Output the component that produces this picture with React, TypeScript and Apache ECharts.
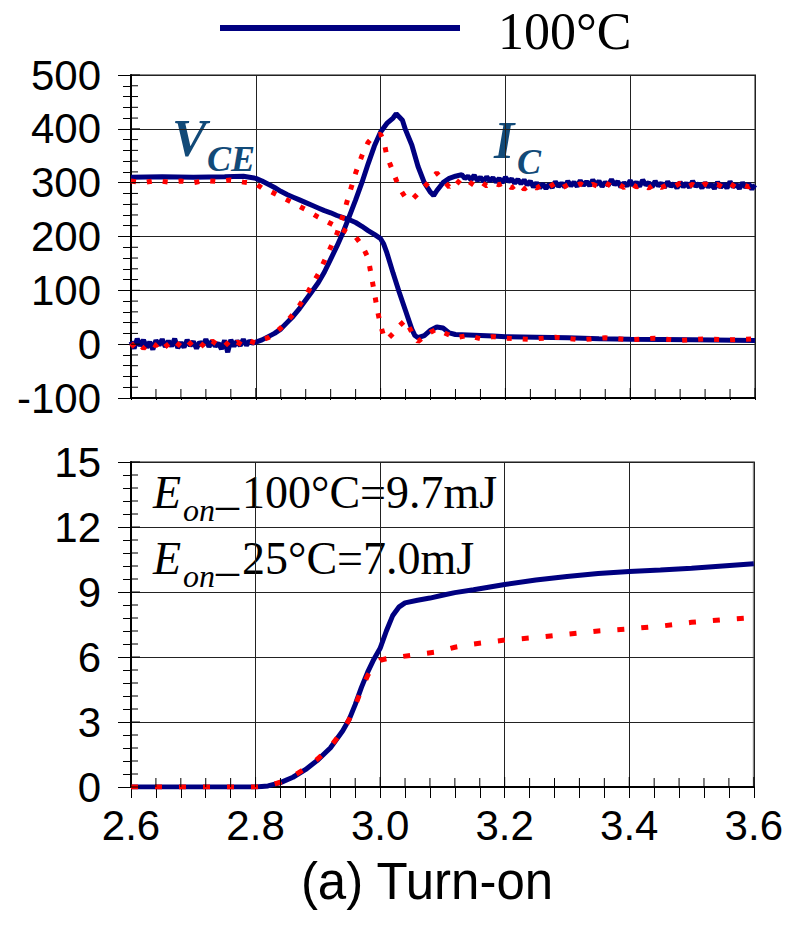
import React, { useEffect, useRef } from "react";
import * as echarts from "echarts";

// ---------- data ----------
const xTicks = [2.6, 2.8, 3.0, 3.2, 3.4, 3.6];
const topYTicks = [-100, 0, 100, 200, 300, 400, 500];
const bottomYTicks = [0, 3, 6, 9, 12, 15];

// 100°C collector-emitter voltage (V)
const vce100: [number, number][] = [
  [2.60, 310], [2.65, 311], [2.70, 310], [2.75, 311], [2.78, 312], [2.80, 308], [2.81, 303], [2.82, 297],
  [2.83, 291], [2.84, 284], [2.85, 278], [2.86, 273], [2.87, 268], [2.88, 263], [2.89, 258], [2.90, 253],
  [2.91, 248], [2.92, 244], [2.93, 239], [2.94, 235], [2.95, 231], [2.96, 226], [2.97, 219], [2.98, 211],
  [2.99, 204], [3.00, 196], [3.005, 186], [3.01, 170], [3.02, 132], [3.03, 96], [3.04, 62], [3.05, 28],
  [3.055, 16], [3.06, 12], [3.07, 16], [3.08, 26], [3.09, 32], [3.10, 30], [3.11, 21], [3.12, 18],
  [3.14, 17], [3.16, 16], [3.18, 15], [3.20, 14], [3.25, 13], [3.30, 12], [3.35, 10], [3.40, 9],
  [3.50, 8], [3.60, 7],
];

// 100°C collector current (A)
const ic100: [number, number][] = [
  [2.600, 5], [2.605, -8], [2.610, 10], [2.615, -3], [2.620, 8], [2.625, -6], [2.630, 4], [2.635, -10],
  [2.640, 7], [2.645, -2], [2.650, 9], [2.655, -5], [2.660, 6], [2.665, -4], [2.670, 10], [2.675, -7],
  [2.680, 3], [2.685, -6], [2.690, 8], [2.695, -3], [2.700, 5], [2.705, -8], [2.710, 4], [2.715, -2],
  [2.720, 9], [2.725, -5], [2.730, 6], [2.735, -4], [2.740, 2], [2.745, -9], [2.750, 7], [2.755, -15],
  [2.760, 8], [2.765, -4], [2.770, 6], [2.775, -3], [2.780, 9], [2.785, -2], [2.790, 6], [2.795, 2],
  [2.800, 4], [2.81, 8], [2.82, 14], [2.83, 20], [2.84, 28], [2.85, 40], [2.86, 52], [2.87, 66],
  [2.88, 82], [2.89, 98], [2.90, 114], [2.91, 134], [2.92, 158], [2.93, 182], [2.94, 208], [2.95, 238],
  [2.96, 268], [2.97, 300], [2.98, 335], [2.99, 368], [3.00, 394], [3.01, 410], [3.02, 420], [3.025, 428],
  [3.03, 422], [3.035, 416], [3.04, 398], [3.05, 370], [3.06, 330], [3.07, 300], [3.08, 282], [3.085, 276],
  [3.09, 285], [3.10, 300], [3.11, 308], [3.12, 312], [3.13, 315], [3.135, 308],
  [3.140, 312], [3.145, 305], [3.150, 314], [3.155, 304], [3.160, 310], [3.165, 302], [3.170, 311], [3.175, 303],
  [3.180, 309], [3.185, 301], [3.190, 308], [3.195, 300], [3.200, 310], [3.205, 302], [3.210, 307], [3.215, 299],
  [3.220, 306], [3.225, 298], [3.230, 305], [3.235, 296], [3.240, 303], [3.245, 292], [3.250, 300], [3.255, 290],
  [3.260, 298], [3.265, 289], [3.270, 297], [3.275, 291], [3.280, 302], [3.285, 293], [3.290, 299], [3.295, 292],
  [3.300, 303], [3.305, 294], [3.310, 301], [3.315, 293], [3.320, 304], [3.325, 295], [3.330, 302], [3.335, 294],
  [3.340, 305], [3.345, 296], [3.350, 303], [3.355, 293], [3.360, 301], [3.365, 295], [3.370, 306], [3.375, 296],
  [3.380, 302], [3.385, 292], [3.390, 300], [3.395, 294], [3.400, 304], [3.405, 295], [3.410, 301], [3.415, 293],
  [3.420, 305], [3.425, 296], [3.430, 300], [3.435, 292], [3.440, 303], [3.445, 294], [3.450, 299], [3.455, 291],
  [3.460, 302], [3.465, 293], [3.470, 298], [3.475, 290], [3.480, 301], [3.485, 292], [3.490, 299], [3.495, 291],
  [3.500, 303], [3.505, 293], [3.510, 298], [3.515, 290], [3.520, 300], [3.525, 292], [3.530, 297], [3.535, 289],
  [3.540, 301], [3.545, 291], [3.550, 298], [3.555, 290], [3.560, 302], [3.565, 292], [3.570, 297], [3.575, 289],
  [3.580, 300], [3.585, 291], [3.590, 298], [3.595, 288], [3.600, 296],
];

// 25°C collector-emitter voltage (V)
const vce25: [number, number][] = [
  [2.60, 303], [2.62, 300], [2.64, 304], [2.66, 301], [2.68, 303], [2.70, 300], [2.72, 304], [2.74, 302],
  [2.76, 305], [2.78, 301], [2.80, 298], [2.81, 290], [2.82, 286], [2.83, 280], [2.84, 274], [2.85, 268],
  [2.86, 262], [2.87, 256], [2.88, 250], [2.89, 243], [2.90, 236], [2.91, 230], [2.92, 224], [2.93, 218],
  [2.94, 212], [2.95, 206], [2.96, 199], [2.97, 184], [2.98, 160], [2.985, 128], [2.99, 96], [2.995, 62],
  [3.00, 35], [3.005, 15], [3.01, 8], [3.02, 20], [3.03, 34], [3.04, 45], [3.05, 22], [3.06, 5],
  [3.07, 14], [3.08, 22], [3.09, 28], [3.10, 22], [3.12, 12], [3.14, 16], [3.16, 10], [3.18, 14],
  [3.20, 11], [3.24, 9], [3.28, 13], [3.32, 8], [3.36, 12], [3.40, 8], [3.44, 11], [3.48, 7],
  [3.52, 10], [3.56, 8], [3.60, 10],
];

// 25°C collector current (A)
const ic25: [number, number][] = [
  [2.60, -5], [2.61, 6], [2.62, -8], [2.63, 4], [2.64, -3], [2.65, 8], [2.66, -6], [2.67, 5],
  [2.68, -4], [2.69, 7], [2.70, -5], [2.71, 3], [2.72, -7], [2.73, 6], [2.74, -2], [2.75, 5],
  [2.76, -6], [2.77, 4], [2.78, -3], [2.79, 6], [2.80, 2], [2.81, 8], [2.82, 12], [2.83, 20],
  [2.84, 30], [2.85, 42], [2.86, 56], [2.87, 72], [2.88, 90], [2.89, 110], [2.90, 130], [2.91, 155],
  [2.92, 180], [2.93, 205], [2.94, 240], [2.95, 280], [2.96, 318], [2.97, 350], [2.98, 375], [2.99, 388],
  [3.00, 390], [3.005, 378], [3.01, 350], [3.02, 320], [3.03, 290], [3.04, 272], [3.05, 268], [3.06, 280],
  [3.07, 292], [3.08, 305], [3.09, 318], [3.10, 305], [3.11, 292], [3.12, 306], [3.13, 296], [3.14, 303],
  [3.15, 295], [3.16, 302], [3.17, 294], [3.18, 300], [3.19, 296], [3.20, 301], [3.21, 290], [3.22, 299],
  [3.23, 288], [3.24, 296], [3.25, 290], [3.26, 297], [3.27, 292], [3.28, 299], [3.29, 290], [3.30, 296],
  [3.31, 293], [3.32, 298], [3.33, 291], [3.34, 297], [3.35, 292], [3.36, 300], [3.37, 293], [3.38, 298],
  [3.39, 291], [3.40, 299], [3.41, 292], [3.42, 297], [3.43, 290], [3.44, 298], [3.45, 291], [3.46, 296],
  [3.47, 292], [3.48, 299], [3.49, 291], [3.50, 297], [3.51, 290], [3.52, 298], [3.53, 292], [3.54, 297],
  [3.55, 290], [3.56, 298], [3.57, 291], [3.58, 296], [3.59, 292], [3.60, 298],
];

// Turn-on energy (mJ)
const eon100: [number, number][] = [
  [2.60, 0], [2.70, 0], [2.80, 0], [2.82, 0.05], [2.84, 0.2], [2.86, 0.45], [2.88, 0.8], [2.90, 1.25],
  [2.92, 1.8], [2.94, 2.6], [2.95, 3.1], [2.96, 3.8], [2.97, 4.6], [2.98, 5.3], [2.99, 5.9], [3.00, 6.4],
  [3.01, 7.2], [3.02, 7.9], [3.03, 8.3], [3.04, 8.5], [3.06, 8.62], [3.08, 8.72], [3.10, 8.85], [3.12, 8.97],
  [3.15, 9.1], [3.20, 9.35], [3.25, 9.55], [3.30, 9.72], [3.35, 9.85], [3.40, 9.95], [3.45, 10.02], [3.50, 10.1],
  [3.55, 10.2], [3.60, 10.3],
];
const eon25: [number, number][] = [
  [2.60, 0], [2.70, 0], [2.80, 0], [2.82, 0.05], [2.84, 0.22], [2.86, 0.5], [2.88, 0.85], [2.90, 1.3],
  [2.92, 1.85], [2.94, 2.6], [2.95, 3.1], [2.96, 3.75], [2.97, 4.5], [2.98, 5.15], [2.99, 5.6], [3.00, 5.85],
  [3.01, 5.92], [3.03, 6.0], [3.06, 6.12], [3.09, 6.23], [3.12, 6.45], [3.15, 6.6], [3.20, 6.78], [3.25, 6.9],
  [3.30, 7.05], [3.35, 7.2], [3.40, 7.3], [3.45, 7.42], [3.50, 7.6], [3.55, 7.72], [3.60, 7.82],
];

const legendLabel = "100°C";
const titleText = "(a) Turn-on";
const eonLine1 = "100°C=9.7mJ";
const eonLine2 = "25°C=7.0mJ";

// ---------- styles ----------
const BLUE = "#000080";
const RED = "#ff0000";
const ANNO = "#124a78";
const SANS = "'Liberation Sans', Arial, sans-serif";
const SERIF = "'Liberation Serif', 'Times New Roman', serif";

const PLOT_W = 624;
const TOP_H = 323;
const BOT_H = 325;
const MINOR_SPLIT = 5;

// tick values (major + minor) along an axis, derived from the major tick list
function tickValues(majors: number[]) {
  const out: [number, number][] = [];
  for (let i = 0; i < majors.length; i++) {
    out.push([majors[i], 1]);
    if (i < majors.length - 1) {
      const step = (majors[i + 1] - majors[i]) / MINOR_SPLIT;
      for (let k = 1; k < MINOR_SPLIT; k++) out.push([Number((majors[i] + k * step).toFixed(6)), 0]);
    }
  }
  return out;
}

export default function App() {
  const ref = useRef<HTMLDivElement>(null);
  useEffect(() => {
    if (!ref.current) return;
    const chart = echarts.init(ref.current, undefined, { renderer: "svg" });

    const xBase = (gridIndex: number) => ({
      type: "value",
      gridIndex,
      position: "bottom",
      min: xTicks[0],
      max: xTicks[xTicks.length - 1],
      interval: 0.2,
    });
    const tickLine = { color: "#000", width: 1 };

    const baseGraphic: any[] = [
      { type: "line", shape: { x1: 220, y1: 28, x2: 460, y2: 28 }, style: { stroke: BLUE, lineWidth: 6 } },
      { type: "text", x: 498, y: 31, style: { text: legendLabel, fontFamily: SERIF, fontSize: 52, fill: "#000", verticalAlign: "middle", align: "left" } },
      // V_CE
      { type: "text", x: 172, y: 138, style: { text: "V", fontFamily: SERIF, fontSize: 52, fontWeight: "bold", fontStyle: "italic", fill: ANNO, verticalAlign: "middle" } },
      { type: "text", x: 207, y: 159, style: { text: "CE", fontFamily: SERIF, fontSize: 36, fontWeight: "bold", fontStyle: "italic", fill: ANNO, verticalAlign: "middle" } },
      // I_C
      { type: "text", x: 494, y: 140, style: { text: "I", fontFamily: SERIF, fontSize: 52, fontWeight: "bold", fontStyle: "italic", fill: ANNO, verticalAlign: "middle" } },
      { type: "text", x: 517, y: 162, style: { text: "C", fontFamily: SERIF, fontSize: 36, fontWeight: "bold", fontStyle: "italic", fill: ANNO, verticalAlign: "middle" } },
      // Eon lines
      { type: "text", x: 153, y: 492, style: { text: "E", fontFamily: SERIF, fontSize: 46, fontStyle: "italic", fill: "#000", verticalAlign: "middle" } },
      { type: "text", x: 183, y: 510, style: { text: "on", fontFamily: SERIF, fontSize: 32, fontStyle: "italic", fill: "#000", verticalAlign: "middle" } },
      { type: "text", x: 216, y: 504, style: { text: "–", fontFamily: SERIF, fontSize: 46, fill: "#000", verticalAlign: "middle" } },
      { type: "text", x: 242, y: 492, style: { text: eonLine1, fontFamily: SERIF, fontSize: 46, fill: "#000", verticalAlign: "middle" } },
      { type: "text", x: 153, y: 558, style: { text: "E", fontFamily: SERIF, fontSize: 46, fontStyle: "italic", fill: "#000", verticalAlign: "middle" } },
      { type: "text", x: 183, y: 576, style: { text: "on", fontFamily: SERIF, fontSize: 32, fontStyle: "italic", fill: "#000", verticalAlign: "middle" } },
      { type: "text", x: 216, y: 570, style: { text: "–", fontFamily: SERIF, fontSize: 46, fill: "#000", verticalAlign: "middle" } },
      { type: "text", x: 242, y: 558, style: { text: eonLine2, fontFamily: SERIF, fontSize: 46, fill: "#000", verticalAlign: "middle" } },
      // title
      { type: "text", x: 427, y: 881, style: { text: titleText, fontFamily: SANS, fontSize: 51, fill: "#000", verticalAlign: "middle", align: "center" } },
    ];

    const option: any = {
      animation: false,
      backgroundColor: "#fff",
      grid: [
        { left: 131, top: 75, width: PLOT_W, height: TOP_H, show: true, borderColor: "#8a8a8a", borderWidth: 2, backgroundColor: "transparent" },
        { left: 131, top: 462, width: PLOT_W, height: BOT_H, show: true, borderColor: "#8a8a8a", borderWidth: 2, backgroundColor: "transparent" },
      ],
      xAxis: [
        {
          ...xBase(0),
          axisLine: { onZero: false, lineStyle: { color: "#000", width: 2 } },
          axisTick: { inside: false, length: 2, lineStyle: tickLine },
          minorTick: { show: true, splitNumber: MINOR_SPLIT, length: 2, lineStyle: tickLine },
          axisLabel: { show: false },
          splitLine: { show: true, lineStyle: { color: "#222", width: 1 } },
        },
        {
          ...xBase(1),
          axisLine: { onZero: false, lineStyle: { color: "#000", width: 2 } },
          axisTick: { inside: false, length: 11, lineStyle: tickLine },
          minorTick: { show: true, splitNumber: MINOR_SPLIT, length: 11, lineStyle: tickLine },
          axisLabel: {
            show: true, margin: 17, color: "#000", fontSize: 42, fontFamily: SANS,
            formatter: (v: number) => v.toFixed(1),
          },
          splitLine: { show: true, lineStyle: { color: "#222", width: 1 } },
        },
      ],
      yAxis: [
        {
          type: "value", gridIndex: 0, position: "left", min: topYTicks[0], max: topYTicks[topYTicks.length - 1], interval: 100,
          axisLine: { show: true, onZero: false, lineStyle: { color: "#000", width: 2 } },
          axisTick: { inside: false, length: 13, lineStyle: tickLine },
          minorTick: { show: true, splitNumber: MINOR_SPLIT, length: 8, lineStyle: tickLine },
          axisLabel: { margin: 30, color: "#000", fontSize: 42, fontFamily: SANS },
          splitLine: { show: true, lineStyle: { color: "#222", width: 1 } },
        },
        {
          type: "value", gridIndex: 1, position: "left", min: bottomYTicks[0], max: bottomYTicks[bottomYTicks.length - 1], interval: 3,
          axisLine: { show: true, onZero: false, lineStyle: { color: "#000", width: 2 } },
          axisTick: { inside: false, length: 13, lineStyle: tickLine },
          minorTick: { show: true, splitNumber: MINOR_SPLIT, length: 8, lineStyle: tickLine },
          axisLabel: { margin: 30, color: "#000", fontSize: 42, fontFamily: SANS },
          splitLine: { show: true, lineStyle: { color: "#222", width: 1 } },
        },
      ],
      series: [
        { name: "VCE 100", type: "line", xAxisIndex: 0, yAxisIndex: 0, data: vce100, showSymbol: false, lineStyle: { color: BLUE, width: 5 } },
        { name: "IC 100", type: "line", xAxisIndex: 0, yAxisIndex: 0, data: ic100, showSymbol: false, lineStyle: { color: BLUE, width: 5 } },
        { name: "VCE 25", type: "line", xAxisIndex: 0, yAxisIndex: 0, data: vce25, showSymbol: false, lineStyle: { color: RED, width: 5, type: [5, 11], cap: "butt" } },
        { name: "IC 25", type: "line", xAxisIndex: 0, yAxisIndex: 0, data: ic25, showSymbol: false, lineStyle: { color: RED, width: 5, type: [5, 11], cap: "butt" } },
        { name: "Eon 100", type: "line", xAxisIndex: 1, yAxisIndex: 1, data: eon100, showSymbol: false, lineStyle: { color: BLUE, width: 5 } },
        { name: "Eon 25", type: "line", xAxisIndex: 1, yAxisIndex: 1, data: eon25, showSymbol: false, lineStyle: { color: RED, width: 5, type: [7, 17], cap: "butt" } },
      ],
      graphic: baseGraphic,
    };
    chart.setOption(option);

    // inner ticks, positioned through the chart's own axis scales
    const tickEls: any[] = [];
    const addY = (gi: number, majors: number[]) => {
      tickValues(majors).forEach(([v, m]) => {
        const p = chart.convertToPixel({ gridIndex: gi } as any, [xTicks[0], v]) as number[];
        if (!p) return;
        const len = m ? 9 : 7;
        tickEls.push({ type: "line", z: 100, silent: true, shape: { x1: p[0], y1: p[1], x2: p[0] + len, y2: p[1] }, style: { stroke: "#000", lineWidth: 1 } });
      });
    };
    const addX = (gi: number, yBase: number) => {
      tickValues(xTicks).forEach(([v, m]) => {
        const p = chart.convertToPixel({ gridIndex: gi } as any, [v, yBase]) as number[];
        if (!p) return;
        const len = m ? 10 : 9;
        tickEls.push({ type: "line", z: 100, silent: true, shape: { x1: p[0], y1: p[1], x2: p[0], y2: p[1] - len }, style: { stroke: "#000", lineWidth: 1 } });
      });
    };
    addY(0, topYTicks);
    addY(1, bottomYTicks);
    addX(0, topYTicks[0]);
    addX(1, bottomYTicks[0]);
    chart.setOption({ graphic: [...baseGraphic, ...tickEls] });

    return () => chart.dispose();
  }, []);

  return (
    <div
      ref={ref}
      style={{ position: "fixed", left: 0, top: 0, width: 786, height: 931, background: "#fff" }}
    />
  );
}
